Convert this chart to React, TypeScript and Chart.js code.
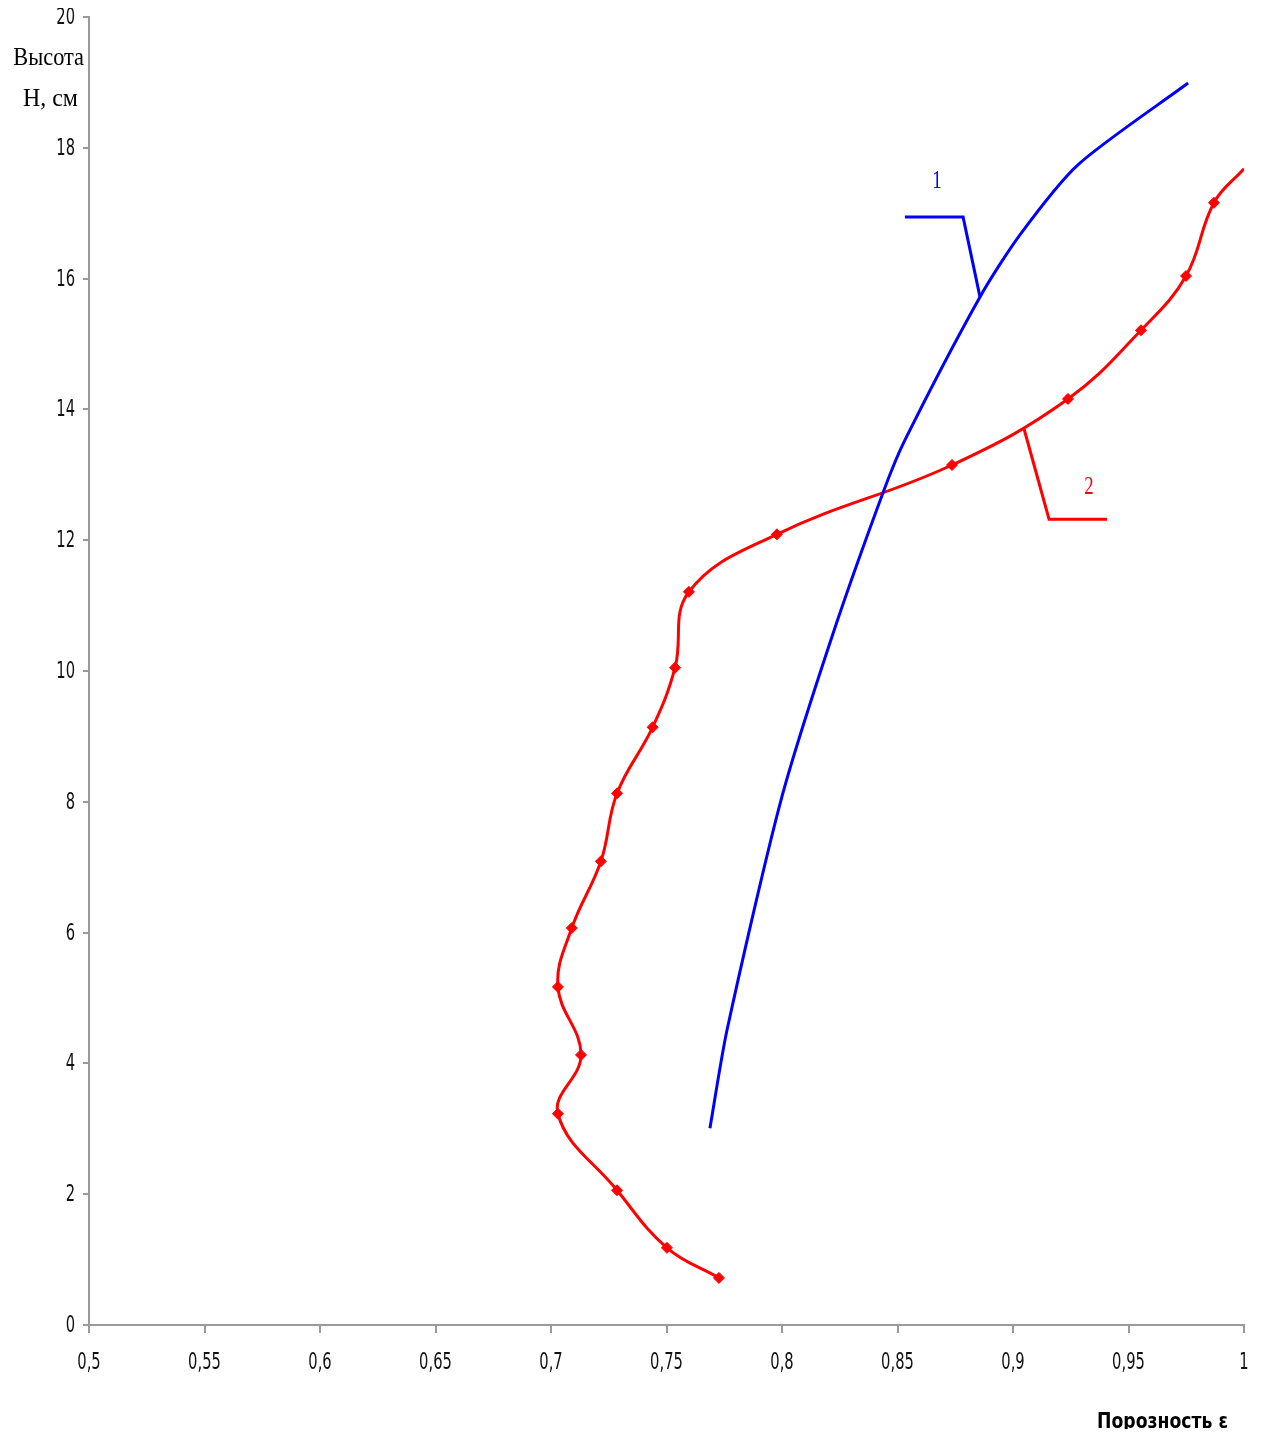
import React, { useEffect, useRef } from "react";
import { Chart, registerables } from "chart.js";

Chart.register(...registerables);

// Curve 1: computed porosity profile (smooth, no markers)
const curve1Porosity = [0.7688, 0.7762, 0.7996, 0.8216, 0.8442, 0.8532, 0.8857, 0.903, 0.9281, 0.9758];
const curve1Height = [3.01, 4.51, 8.03, 10.52, 12.77, 13.53, 15.72, 16.67, 17.74, 18.99];

// Curve 2: measured porosity profile (diamond markers)
const curve2Porosity = [0.7727, 0.7502, 0.7286, 0.703, 0.713, 0.703, 0.709, 0.7216, 0.7286, 0.744, 0.7537, 0.7597, 0.7978, 0.8736, 0.9238, 0.9554, 0.9749, 0.987, 1.0];
const curve2Height = [0.72, 1.18, 2.06, 3.23, 4.13, 5.17, 6.07, 7.09, 8.13, 9.14, 10.05, 11.21, 12.09, 13.15, 14.16, 15.21, 16.04, 17.16, 17.68];

// Leader lines for the curve numbers
const leader1X = [0.8532, 0.8784, 0.8857];
const leader1Y = [16.94, 16.94, 15.72];
const leader2X = [0.9048, 0.9156, 0.9407];
const leader2Y = [13.7, 12.32, 12.32];

const curveNumbers = ["1", "2"];
const curveNumberX = [0.8671, 0.9329];
const curveNumberY = [17.48, 12.8];

// Axis ranges and ticks
const xMin = 0.5;
const xMax = 1.0;
const xStep = 0.05;
const yMin = 0;
const yMax = 20;
const yStep = 2;

const yTitleLines = ["Высота", "Н, см"];
const xTitle = "Порозность ε";

const BLUE = "#0000ff";
const RED = "#ff0000";
const AXIS_GRAY = "#9a9a9a";
const SANS = "'DejaVu Sans', Verdana, sans-serif";
const SERIF = "'Liberation Serif', 'Times New Roman', serif";

const zip = (xs: number[], ys: number[]) => xs.map((x, i) => ({ x, y: ys[i] }));
const fmt = (v: number) => String(Number(Number(v).toFixed(2))).replace(".", ",");

// Text drawn with a horizontal squeeze (narrow face look)
function narrowText(ctx: CanvasRenderingContext2D, text: string, x: number, y: number, align: "left" | "center" | "right", sx: number) {
  ctx.save();
  ctx.translate(x, y);
  ctx.scale(sx, 1);
  ctx.textAlign = align;
  ctx.fillText(text, 0, 0);
  ctx.restore();
}

const annotations = {
  id: "annotations",
  afterDraw(chart: any) {
    const { ctx, scales } = chart;
    const xs = scales.x;
    const ys = scales.y;
    ctx.save();
    ctx.fillStyle = "#111";
    ctx.textBaseline = "middle";
    ctx.font = "23px " + SANS;
    // tick labels
    xs.ticks.forEach((t: any) => {
      narrowText(ctx, fmt(t.value), xs.getPixelForValue(t.value), 1363, "center", 0.64);
    });
    ys.ticks.forEach((t: any) => {
      narrowText(ctx, fmt(t.value), 75, ys.getPixelForValue(t.value) + 1, "right", 0.64);
    });
    // curve numbers
    ctx.font = "25px " + SERIF;
    curveNumbers.forEach((t, i) => {
      ctx.fillStyle = i === 0 ? BLUE : RED;
      narrowText(ctx, t, xs.getPixelForValue(curveNumberX[i]), ys.getPixelForValue(curveNumberY[i]), "center", 0.75);
    });
    // y axis title
    ctx.fillStyle = "#000";
    ctx.font = "26px " + SERIF;
    ctx.textBaseline = "alphabetic";
    narrowText(ctx, yTitleLines[0], 84, 65, "right", 0.86);
    narrowText(ctx, yTitleLines[1], 78, 106, "right", 0.92);
    // x axis title
    ctx.font = "bold 22px " + SANS;
    const w = ctx.measureText(xTitle).width;
    narrowText(ctx, xTitle, 1228, 1428, "right", 131 / w);
    ctx.restore();
  },
};

export default function App() {
  const canvasRef = useRef<HTMLCanvasElement | null>(null);

  useEffect(() => {
    if (!canvasRef.current) return;
    const last = curve2Porosity.length - 1;
    const chart = new Chart(canvasRef.current, {
      type: "line",
      data: {
        datasets: [
          {
            data: zip(curve1Porosity, curve1Height),
            borderColor: BLUE,
            borderWidth: 3,
            pointRadius: 0,
            tension: 0.25,
            fill: false,
          },
          {
            data: zip(curve2Porosity, curve2Height),
            borderColor: RED,
            backgroundColor: RED,
            borderWidth: 3,
            pointStyle: "rectRot",
            pointRadius: (c: any) => (c.dataIndex === last ? 0 : 5.5),
            pointBorderWidth: 1,
            tension: 0.4,
            fill: false,
          },
          {
            data: zip(leader1X, leader1Y),
            borderColor: BLUE,
            borderWidth: 3,
            pointRadius: 0,
            tension: 0,
            fill: false,
          },
          {
            data: zip(leader2X, leader2Y),
            borderColor: RED,
            borderWidth: 3,
            pointRadius: 0,
            tension: 0,
            fill: false,
          },
        ],
      },
      options: {
        responsive: false,
        animation: false,
        layout: { padding: { top: 17, right: 19, left: 0, bottom: 0 } },
        plugins: {
          legend: { display: false },
          tooltip: { enabled: false },
        },
        scales: {
          x: {
            type: "linear",
            min: xMin,
            max: xMax,
            afterFit: (s: any) => {
              s.height = 112;
            },
            border: { display: true, color: AXIS_GRAY, width: 2 },
            grid: { display: true, drawOnChartArea: false, drawTicks: true, tickLength: 8, color: AXIS_GRAY, lineWidth: 2 },
            ticks: { stepSize: xStep, display: false },
          },
          y: {
            type: "linear",
            min: yMin,
            max: yMax,
            afterFit: (s: any) => {
              s.width = 89;
            },
            border: { display: true, color: AXIS_GRAY, width: 2 },
            grid: { display: true, drawOnChartArea: false, drawTicks: true, tickLength: 6, color: AXIS_GRAY, lineWidth: 2 },
            ticks: { stepSize: yStep, display: false },
          },
        },
      },
      plugins: [annotations],
    } as any);
    return () => chart.destroy();
  }, []);

  return (
    <div style={{ position: "relative", width: 1263, height: 1437, margin: -8, background: "#fff" }}>
      <canvas ref={canvasRef} width={1263} height={1437} style={{ display: "block" }} />
    </div>
  );
}
